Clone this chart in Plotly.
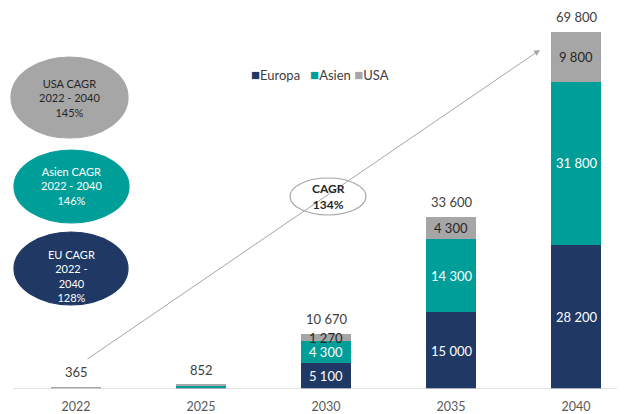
import plotly.graph_objects as go

years = ["2022", "2025", "2030", "2035", "2040"]
europa = [100, 380, 5100, 15000, 28200]
asien = [80, 290, 4300, 14300, 31800]
usa = [185, 182, 1270, 4300, 9800]
totals = [365, 852, 10670, 33600, 69800]
show_seg = [False, False, True, True, True]

C_EU = "#203864"
C_AS = "#009e99"
C_US = "#a6a6a6"
FONT = "Lato"

W, H = 617, 406      # page body margin of 8px shifts the figure
OFF = 8
PLOT_W = W
PLOT_BOTTOM_REF = 389
PLOT_H = 379

def px(xr):
    return (xr - OFF) / PLOT_W

def py(yr):
    return (PLOT_BOTTOM_REF - yr) / PLOT_H

def fmt(v):
    return f"{v:,}".replace(",", " ")

xs = list(range(len(years)))
fig = go.Figure()
for name, vals, col in [("Europa", europa, C_EU), ("Asien", asien, C_AS), ("USA", usa, C_US)]:
    fig.add_trace(go.Bar(x=xs, y=vals, name=name, marker=dict(color=col, line=dict(width=0)),
                         width=0.4, showlegend=False, hoverinfo="skip"))

ann = []
for i in xs:
    if show_seg[i]:
        base = 0
        for vals, tcol in [(europa, "white"), (asien, "white"), (usa, "#262626")]:
            ann.append(dict(x=i, y=base + vals[i] / 2, text=fmt(vals[i]), showarrow=False,
                            xanchor="center", yanchor="middle",
                            font=dict(family=FONT, size=13, color=tcol)))
            base += vals[i]
    ann.append(dict(x=i, y=totals[i], text=fmt(totals[i]), showarrow=False, yshift=15,
                    xanchor="center", yanchor="middle",
                    font=dict(family=FONT, size=13, color="#404040")))

# arrow
ann.append(dict(x=3.712, y=66300, ax=0.08, ay=5670, xref="x", yref="y", axref="x", ayref="y",
                showarrow=True, arrowhead=2, arrowsize=1.2, arrowwidth=1, arrowcolor="#a6a6a6", text=""))

shapes = []
def ell(x0, x1, y0, y1, fill, line):
    shapes.append(dict(type="circle", xref="paper", yref="paper", x0=px(x0), x1=px(x1),
                       y0=py(y1), y1=py(y0), fillcolor=fill, line=dict(color=line, width=1.2),
                       layer="above"))

ell(11, 128, 57, 138, C_US, C_US)
ell(14, 129, 150, 223, C_AS, C_AS)
ell(14, 128, 232, 305, C_EU, C_EU)
ell(290, 366, 178, 215, "white", "#a6a6a6")

# axis line
shapes.append(dict(type="line", xref="paper", yref="y", x0=px(13), x1=1, y0=0, y1=0,
                   line=dict(color="#d9d9d9", width=1.5), layer="above"))

def label(xr, yr, text, color, size=11):
    ann.append(dict(xref="paper", yref="paper", x=px(xr), y=py(yr), showarrow=False,
                    xanchor="center", yanchor="middle", text=text,
                    font=dict(family=FONT, size=size, color=color)))

label(69, 98, "USA CAGR<br>2022 - 2040<br>145%", "#262626")
label(71, 186, "Asien CAGR<br>2022 - 2040<br>146%", "white")
label(71, 276, "EU CAGR<br>2022 -<br>2040<br>128%", "white")
label(328, 196, "<b>CAGR<br>134%</b>", "#262626", 12)

sq = "<span style='color:{c};font-size:15px'>■</span>"
legend_text = (sq.format(c=C_EU) + "Europa   " + sq.format(c=C_AS) + "Asien "
               + sq.format(c=C_US) + "USA")
label(320, 74, legend_text, "#404040", 13)

fig.update_layout(
    width=W, height=H, barmode="stack",
    margin=dict(l=0, r=0, t=2, b=25),
    paper_bgcolor="white", plot_bgcolor="white",
    xaxis=dict(range=[-0.608 + OFF / 125, 4.392], tickvals=xs, ticktext=years, showgrid=False,
               zeroline=False, showline=False, ticks="", ticklabelstandoff=8,
               tickfont=dict(family=FONT, size=12.5, color="#595959")),
    yaxis=dict(range=[0, 74100], visible=False, showgrid=False, zeroline=False),
    annotations=ann, shapes=shapes, showlegend=False,
)
fig.write_html("out.html")
